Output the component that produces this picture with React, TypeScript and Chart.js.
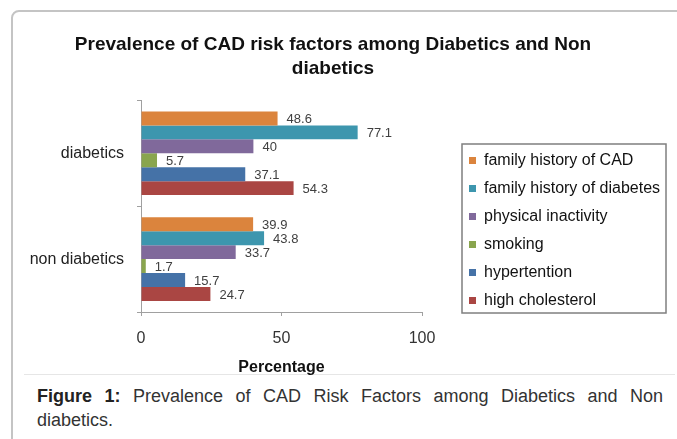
import React, { useEffect, useRef } from 'react';
import { Chart, registerables } from 'chart.js';

Chart.register(...registerables);

const FONT = "'Liberation Sans', Arial, Helvetica, sans-serif";
Chart.defaults.font.family = FONT;

const titleLines = ['Prevalence of CAD risk factors among Diabetics and Non', 'diabetics'];
const categories = ['diabetics', 'non diabetics'];
const seriesNames = [
  'family history of CAD',
  'family history of diabetes',
  'physical inactivity',
  'smoking',
  'hypertention',
  'high cholesterol',
];
const familyHistoryCAD = [48.6, 39.9];
const familyHistoryDiabetes = [77.1, 43.8];
const physicalInactivity = [40, 33.7];
const smoking = [5.7, 1.7];
const hypertention = [37.1, 15.7];
const highCholesterol = [54.3, 24.7];
const seriesValues = [familyHistoryCAD, familyHistoryDiabetes, physicalInactivity, smoking, hypertention, highCholesterol];
const seriesColors = ['#DB843D', '#3D96AE', '#80699B', '#89A54E', '#4572A7', '#AA4643'];
const xTicks = [0, 50, 100];
const xTitle = 'Percentage';
const captionBold = 'Figure 1:';
const captionText = ' Prevalence of CAD Risk Factors among Diabetics and Non diabetics.';

const LEGEND_FONT = 16;
const LEGEND_PAD = 12;
const LEGEND_BOX = 7;

const valueLabels = {
  id: 'valueLabels',
  afterDatasetsDraw(chart: any) {
    const ctx = chart.ctx;
    ctx.save();
    ctx.font = `13px ${FONT}`;
    ctx.fillStyle = '#404040';
    ctx.textAlign = 'left';
    ctx.textBaseline = 'middle';
    chart.data.datasets.forEach((ds: any, i: number) => {
      const meta = chart.getDatasetMeta(i);
      meta.data.forEach((bar: any, j: number) => {
        ctx.fillText(String(ds.data[j]), bar.x + 9, bar.y + 1);
      });
    });
    ctx.restore();
  },
};

const legendFrame = {
  id: 'legendFrame',
  afterLayout(chart: any) {
    const lg = chart.legend;
    const ca = chart.chartArea;
    if (!lg) return;
    lg.left = ca.right + 35;
    lg.right = lg.left + lg.width;
    lg.top = ca.top + 40;
    lg.bottom = lg.top + lg.height;
  },
  afterDraw(chart: any) {
    const lg = chart.legend;
    if (!lg) return;
    const ctx = chart.ctx;
    ctx.save();
    ctx.font = `${LEGEND_FONT}px ${FONT}`;
    let maxW = 0;
    chart.data.datasets.forEach((ds: any) => {
      maxW = Math.max(maxW, ctx.measureText(ds.label).width);
    });
    const n = chart.data.datasets.length;
    const textStart = lg.left + LEGEND_PAD + LEGEND_BOX + LEGEND_FONT / 2;
    const x0 = lg.left + 5;
    const x1 = textStart + maxW + 6;
    const firstCenter = lg.top + LEGEND_PAD + LEGEND_FONT / 2;
    const y0 = firstCenter - 16;
    const y1 = firstCenter + (n - 1) * (LEGEND_FONT + LEGEND_PAD) + 13;
    ctx.strokeStyle = '#7f7f7f';
    ctx.lineWidth = 1.5;
    ctx.strokeRect(Math.round(x0), Math.round(y0), Math.round(x1 - x0), Math.round(y1 - y0));
    ctx.restore();
  },
};

export default function App() {
  const ref = useRef<HTMLCanvasElement>(null);

  useEffect(() => {
    document.body.style.margin = '0';
    const canvas = ref.current;
    if (!canvas) return;
    const chart = new Chart(canvas, {
      type: 'bar',
      data: {
        labels: categories,
        datasets: seriesNames.map((name, i) => ({
          label: name,
          data: seriesValues[i],
          backgroundColor: seriesColors[i],
          borderWidth: 0,
        })),
      },
      options: {
        indexAxis: 'y',
        responsive: false,
        animation: false,
        devicePixelRatio: 1,
        layout: { padding: { left: 20, right: 31, top: 20, bottom: 2.5 } },
        datasets: { bar: { barPercentage: 1, categoryPercentage: 0.79 } },
        plugins: {
          title: {
            display: true,
            text: titleLines,
            color: '#111',
            font: { size: 19, weight: 'bold', lineHeight: 1.3 },
            padding: { top: 12, bottom: 19 },
          },
          legend: {
            display: true,
            position: 'chartArea',
            align: 'start',
            labels: {
              boxWidth: LEGEND_BOX,
              boxHeight: LEGEND_BOX,
              padding: LEGEND_PAD,
              color: '#111',
              font: { size: LEGEND_FONT },
            },
          },
          tooltip: { enabled: false },
        },
        scales: {
          x: {
            type: 'linear',
            position: 'bottom',
            min: 0,
            max: 100,
            afterBuildTicks: (s: any) => {
              s.ticks = xTicks.map((v) => ({ value: v }));
            },
            afterFit: (s: any) => {
              s.height = 65.5;
            },
            grid: { drawOnChartArea: false, tickLength: 4, color: '#a0a0a0' },
            border: { color: '#a0a0a0', width: 1 },
            ticks: { padding: 13, color: '#333', font: { size: 16 } },
            title: {
              display: true,
              text: xTitle,
              color: '#111',
              font: { size: 16, weight: 'bold' },
              padding: { top: 9, bottom: 0 },
            },
          },
          y: {
            type: 'category',
            position: 'left',
            grid: { drawOnChartArea: false, offset: true, tickLength: 4, color: '#a0a0a0' },
            border: { color: '#a0a0a0', width: 1 },
            ticks: { padding: 13, color: '#222', font: { size: 16 } },
            afterFit: (s: any) => {
              s.width = 121;
            },
          },
          yR: {
            type: 'linear',
            position: 'right',
            display: true,
            grid: { display: false },
            border: { display: false },
            ticks: { display: false },
            afterFit: (s: any) => {
              s.width = 224;
            },
          },
        },
      } as any,
      plugins: [valueLabels, legendFrame],
    });
    return () => chart.destroy();
  }, []);

  return (
    <div
      style={{
        position: 'relative',
        width: 677,
        height: 439,
        overflow: 'hidden',
        background: '#ffffff',
        fontFamily: FONT,
      }}
    >
      <div
        style={{
          position: 'absolute',
          left: 11,
          top: 10,
          width: 720,
          height: 520,
          border: '2px solid #c4c4c4',
          borderRadius: 8,
          boxSizing: 'border-box',
        }}
      />
      <div style={{ position: 'absolute', left: 24, top: 374, width: 651, height: 1, background: '#e6e6e6' }} />
      <canvas
        ref={ref}
        width={677}
        height={380}
        style={{ position: 'absolute', left: 0, top: 0, width: 677, height: 380 }}
      />
      <div
        style={{
          position: 'absolute',
          left: 37,
          top: 385,
          width: 626,
          fontSize: 18,
          lineHeight: '23.5px',
          textAlign: 'justify',
          color: '#333',
        }}
      >
        <b style={{ color: '#222' }}>{captionBold}</b>
        {captionText}
      </div>
    </div>
  );
}
